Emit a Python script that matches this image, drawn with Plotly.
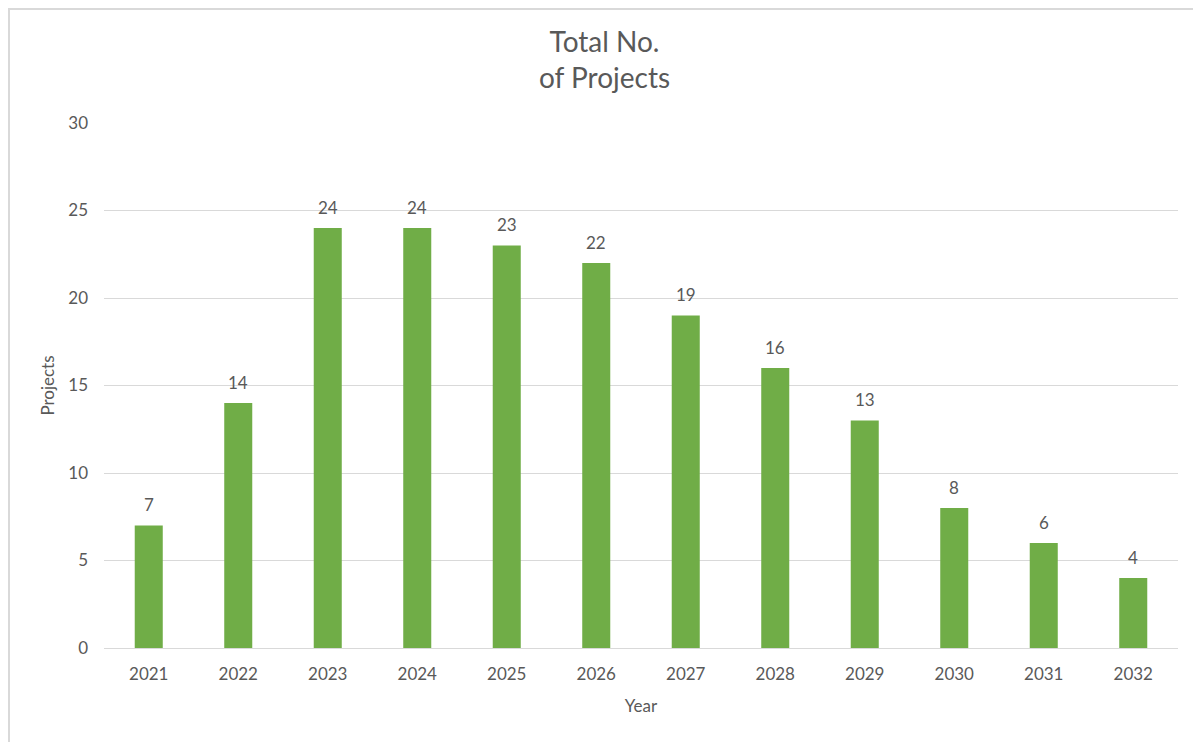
import plotly.graph_objects as go

years = ["2021", "2022", "2023", "2024", "2025", "2026", "2027", "2028", "2029", "2030", "2031", "2032"]
projects = [7, 14, 24, 24, 23, 22, 19, 16, 13, 8, 6, 4]
y_ticks = [0, 5, 10, 15, 20, 25, 30]

W, H = 1193, 734
L, T = 96, 115
PW, PH = 1074, 525
R, B = W - L - PW, H - T - PH

def px(x):
    return (x - L) / PW

def py(y):
    return (H - B - y) / PH

font = "Lato, 'Open Sans', sans-serif"
grey = "#595959"

fig = go.Figure(go.Bar(
    x=years, y=projects,
    marker=dict(color="#70AD47", line=dict(width=0)),
    hoverinfo="skip",
))

# data labels above bars (category index on the category axis)
for i, v in enumerate(projects):
    fig.add_annotation(x=i, y=v, text=str(v), showarrow=False,
                       xref="x", yref="y",
                       yanchor="middle", yshift=21,
                       font=dict(family=font, size=17, color=grey))

fig.update_layout(
    width=W, height=H,
    margin=dict(l=L, r=R, t=T, b=B),
    paper_bgcolor="white", plot_bgcolor="white",
    bargap=0.687,
    showlegend=False,
    font=dict(family=font, color=grey),
    title=dict(text="Total No.<br>of Projects", x=0.5, xanchor="center",
               y=1 - 44 / H, yanchor="middle",
               font=dict(family=font, size=28, color=grey)),
    xaxis=dict(
        type="category", categoryorder="array", categoryarray=years,
        showgrid=False, showline=True, linecolor="#D9D9D9", linewidth=1,
        ticks="", ticklabelstandoff=11, tickfont=dict(family=font, size=17, color=grey),
        title=dict(text="Year", font=dict(family=font, size=17, color=grey), standoff=16),
    ),
    yaxis=dict(
        range=[0, 30], tickvals=y_ticks, showgrid=True, gridcolor="#D9D9D9", gridwidth=1,
        zeroline=False, showline=False, ticks="", ticklabelstandoff=15,
        tickfont=dict(family=font, size=17, color=grey),
        title=dict(text="Projects", font=dict(family=font, size=17, color=grey), standoff=9),
    ),
    shapes=[dict(type="rect", xref="paper", yref="paper",
                 x0=px(1), x1=px(W - 1), y0=py(H + 5), y1=py(1),
                 line=dict(color="#D9D9D9", width=2), fillcolor="rgba(0,0,0,0)", layer="below")],
)

fig.write_html("out.html")
